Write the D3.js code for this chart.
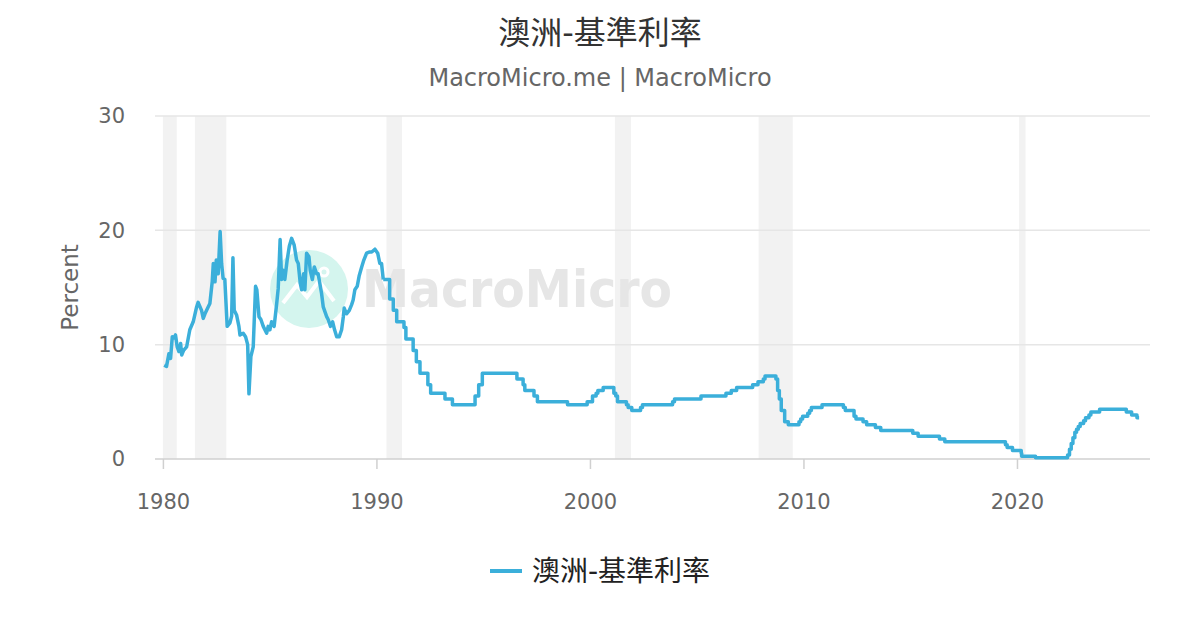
<!DOCTYPE html>
<html>
<head>
<meta charset="utf-8">
<script src="https://cdn.jsdelivr.net/npm/d3@7"></script>
<style>
	body { margin: 0; background: #fff; }
	text { font-family: "DejaVu Sans", "Noto Sans CJK TC", sans-serif; }
</style>
</head>
<body>
<div id="chart"></div>
<script>
// chart text
var titleText = "澳洲-基準利率";
var subtitleText = "MacroMicro.me | MacroMicro";
var yTitle = "Percent";

// tick labels
var yTicks = [0, 10, 20, 30];
var xTicks = [1980, 1990, 2000, 2010, 2020];

// recession periods (decimal years)
var recessionStart = [1980.0, 1981.5, 1990.47, 2001.17, 2007.9, 2020.1];
var recessionEnd   = [1980.65, 1982.97, 1991.2, 2001.92, 2009.5, 2020.4];

// 1980s, volatile monthly readings (decimal year, percent)
var earlyDates = [1980.06, 1980.17, 1980.28, 1980.36, 1980.44, 1980.52, 1980.59, 1980.67, 1980.75, 1980.83,
	1980.88, 1980.97, 1981.11, 1981.26, 1981.42, 1981.58, 1981.65, 1981.81, 1981.89, 1981.97,
	1982.12, 1982.2, 1982.31, 1982.36, 1982.44, 1982.5, 1982.59, 1982.68, 1982.75, 1982.82,
	1982.9, 1983.01, 1983.14, 1983.22, 1983.28, 1983.34, 1983.45, 1983.56, 1983.61, 1983.76,
	1983.87, 1983.97, 1984.03, 1984.12, 1984.23, 1984.34, 1984.4, 1984.5, 1984.59, 1984.7,
	1984.86, 1984.93, 1985.01, 1985.09, 1985.21, 1985.33, 1985.4, 1985.49, 1985.56, 1985.63,
	1985.71, 1985.82, 1985.92, 1986.03, 1986.15, 1986.26, 1986.34, 1986.43, 1986.5, 1986.59,
	1986.65, 1986.73, 1986.84, 1986.9, 1987.0, 1987.09, 1987.2, 1987.27, 1987.43, 1987.51,
	1987.67, 1987.74, 1987.85, 1987.95, 1988.04, 1988.14, 1988.26, 1988.37, 1988.45, 1988.49,
	1988.6, 1988.73, 1988.84, 1988.91, 1988.99, 1989.1, 1989.19, 1989.31, 1989.41, 1989.54,
	1989.66, 1989.78, 1989.93, 1990.06, 1990.16, 1990.24, 1990.32];
var earlyRates = [8.2, 8.1, 9.2, 8.8, 10.7, 10.6, 10.85, 9.8, 9.4, 10.1,
	9.1, 9.5, 9.8, 11.3, 12.0, 13.3, 13.7, 13.0, 12.3, 12.7,
	13.3, 13.6, 15.5, 17.1, 15.5, 17.4, 16.2, 19.9, 17.1, 15.8,
	15.7, 11.6, 11.9, 12.5, 17.6, 13.0, 12.6, 11.6, 10.85, 11.0,
	10.7, 10.0, 5.7, 8.95, 9.8, 15.1, 14.8, 12.45, 12.2, 11.6,
	11.0, 11.6, 11.3, 12.0, 11.6, 13.6, 14.9, 19.2, 15.7, 16.5,
	15.7, 17.4, 18.6, 19.3, 18.7, 17.4, 17.1, 15.4, 14.8, 16.2,
	14.8, 18.0, 17.7, 16.5, 15.7, 16.8, 16.2, 16.2, 14.5, 13.3,
	12.45, 12.2, 11.6, 12.0, 11.3, 10.7, 10.7, 11.3, 12.45, 13.2,
	12.7, 13.0, 13.5, 13.9, 14.8, 15.1, 16.0, 16.8, 17.4, 18.0,
	18.1, 18.1, 18.35, 18.0, 17.1, 17.1, 15.7];

// from 1990, the rate moves in steps: date of each change and the new level
var changeDates = [1990.32, 1990.62, 1990.79, 1990.95, 1991.29, 1991.38, 1991.72, 1991.87, 1992.04, 1992.41,
	1992.54, 1993.21, 1993.56, 1994.62, 1994.79, 1994.96, 1996.58, 1996.87, 1996.95, 1997.38,
	1997.54, 1998.95, 1999.87, 2000.12, 2000.29, 2000.37, 2000.62, 2001.12, 2001.21, 2001.29,
	2001.71, 2001.79, 2001.96, 2002.37, 2002.46, 2003.87, 2003.96, 2005.2, 2006.37, 2006.62,
	2006.87, 2007.62, 2007.87, 2008.12, 2008.2, 2008.71, 2008.79, 2008.87, 2008.96, 2009.12,
	2009.29, 2009.79, 2009.87, 2009.96, 2010.2, 2010.29, 2010.37, 2010.87, 2011.87, 2011.96,
	2012.37, 2012.46, 2012.79, 2012.96, 2013.37, 2013.62, 2015.12, 2015.37, 2016.37, 2016.62,
	2019.46, 2019.54, 2019.79, 2020.2, 2020.22, 2020.87, 2022.37, 2022.46, 2022.54, 2022.62,
	2022.71, 2022.79, 2022.87, 2022.96, 2023.12, 2023.21, 2023.37, 2023.46, 2023.87, 2025.12,
	2025.37, 2025.62, 2025.72];
var changeRates = [15.7, 14.0, 13.0, 12.0, 11.5, 10.5, 9.5, 8.5, 7.5, 6.5,
	5.75, 5.25, 4.75, 5.5, 6.5, 7.5, 7.0, 6.5, 6.0, 5.5,
	5.0, 4.75, 5.0, 5.5, 5.75, 6.0, 6.25, 5.75, 5.5, 5.0,
	4.75, 4.5, 4.25, 4.5, 4.75, 5.0, 5.25, 5.5, 5.75, 6.0,
	6.25, 6.5, 6.75, 7.0, 7.25, 7.0, 6.0, 5.25, 4.25, 3.25,
	3.0, 3.25, 3.5, 3.75, 4.0, 4.25, 4.5, 4.75, 4.5, 4.25,
	3.75, 3.5, 3.25, 3.0, 2.75, 2.5, 2.25, 2.0, 1.75, 1.5,
	1.25, 1.0, 0.75, 0.5, 0.25, 0.1, 0.35, 0.85, 1.35, 1.85,
	2.35, 2.6, 2.85, 3.1, 3.35, 3.6, 3.85, 4.1, 4.35, 4.1,
	3.85, 3.6, 3.6];

var lineColor = "#3bafda";

// dimensions
var width = 1200, height = 630;
var plot = { left: 155, right: 1150, top: 116, bottom: 459 };

var svg = d3.select("#chart").append("svg")
	.attr("width", width)
	.attr("height", height);

var x = d3.scaleLinear()
	.domain([1979.63, 2026.23])
	.range([plot.left, plot.right]);
var y = d3.scaleLinear()
	.domain([0, 30])
	.range([plot.bottom, plot.top]);

// recession bands
svg.append("g").selectAll("rect")
	.data(d3.range(recessionStart.length))
	.enter().append("rect")
	.attr("x", function(i) { return x(recessionStart[i]); })
	.attr("width", function(i) { return x(recessionEnd[i]) - x(recessionStart[i]); })
	.attr("y", plot.top)
	.attr("height", plot.bottom - plot.top)
	.style("fill", "#f2f2f2");

// horizontal grid
svg.append("g").selectAll("line")
	.data(yTicks.filter(function(d) { return d > 0; }))
	.enter().append("line")
	.attr("x1", plot.left).attr("x2", plot.right)
	.attr("y1", function(d) { return y(d); })
	.attr("y2", function(d) { return y(d); })
	.style("stroke", "#e6e6e6")
	.style("stroke-width", 1.5);

// watermark
var wm = svg.append("g").attr("class", "watermark");
wm.append("circle")
	.attr("cx", 309).attr("cy", 289).attr("r", 39)
	.style("fill", "#d4f5ee");
wm.append("path")
	.attr("d", "M283,303 L297,285 L307,297 L319,281 L334,301")
	.style("fill", "none").style("stroke", "#fff").style("stroke-width", 4);
wm.append("circle")
	.attr("cx", 324).attr("cy", 272).attr("r", 4)
	.style("fill", "none").style("stroke", "#fff").style("stroke-width", 3);
wm.append("text")
	.attr("x", 362).attr("y", 307)
	.attr("textLength", 310)
	.attr("lengthAdjust", "spacingAndGlyphs")
	.style("font-size", "52px")
	.style("font-weight", "bold")
	.style("fill", "#e6e6e6")
	.text("MacroMicro");

// y axis labels
svg.append("g").selectAll("text")
	.data(yTicks)
	.enter().append("text")
	.attr("x", 125)
	.attr("y", function(d) { return y(d); })
	.attr("dy", "0.35em")
	.attr("text-anchor", "end")
	.style("font-size", "21px")
	.style("fill", "#666")
	.text(function(d) { return d; });

svg.append("text")
	.attr("transform", "translate(78," + ((plot.top + plot.bottom) / 2) + ") rotate(-90)")
	.attr("text-anchor", "middle")
	.style("font-size", "23px")
	.style("fill", "#666")
	.text(yTitle);

// x axis
var xAxis = d3.axisBottom(x)
	.tickValues(xTicks)
	.tickFormat(d3.format("d"))
	.tickSize(10)
	.tickPadding(25);

var gx = svg.append("g")
	.attr("transform", "translate(0," + plot.bottom + ")")
	.call(xAxis);
gx.select(".domain").remove();
gx.insert("line", ":first-child")
	.attr("x1", plot.left).attr("x2", plot.right)
	.style("stroke", "#d0d0d0").style("stroke-width", 1.5);
gx.selectAll(".tick line").style("stroke", "#d0d0d0").style("stroke-width", 1.5);
gx.selectAll(".tick text")
	.style("font-size", "21px")
	.style("font-family", "DejaVu Sans")
	.style("fill", "#666");

// series
var line = d3.line()
	.x(function(d) { return x(d[0]); })
	.y(function(d) { return y(d[1]); });

var earlySeries = earlyDates.map(function(d, i) { return [d, earlyRates[i]]; });
var stepSeries = changeDates.map(function(d, i) { return [d, changeRates[i]]; });

svg.append("path")
	.datum(earlySeries)
	.attr("d", line.curve(d3.curveLinear))
	.style("fill", "none")
	.style("stroke", lineColor)
	.style("stroke-width", 3.5)
	.style("stroke-linejoin", "round");

svg.append("path")
	.datum(stepSeries)
	.attr("d", line.curve(d3.curveStepAfter))
	.style("fill", "none")
	.style("stroke", lineColor)
	.style("stroke-width", 3.5)
	.style("stroke-linejoin", "round");

// title
svg.append("text")
	.attr("x", width / 2).attr("y", 44)
	.attr("text-anchor", "middle")
	.style("font-size", "32px")
	.style("fill", "#333")
	.text(titleText);

svg.append("text")
	.attr("x", width / 2).attr("y", 86)
	.attr("text-anchor", "middle")
	.style("font-size", "24px")
	.style("fill", "#666")
	.text(subtitleText);

// legend
var legend = svg.append("g").attr("transform", "translate(490,571)");
legend.append("line")
	.attr("x1", 0).attr("x2", 32)
	.style("stroke", lineColor)
	.style("stroke-width", 4);
legend.append("text")
	.attr("x", 42).attr("y", 0)
	.attr("dy", "0.35em")
	.style("font-size", "28px")
	.style("fill", "#222")
	.text(titleText);
</script>
</body>
</html>
